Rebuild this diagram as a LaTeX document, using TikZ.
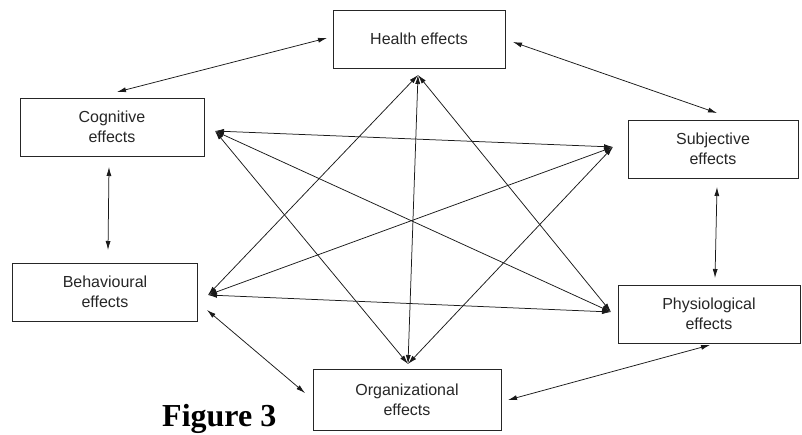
\documentclass[tikz,border=0pt]{standalone}
\usepackage{fontspec}
\setmainfont{Liberation Sans}
\newfontfamily\figfont{Liberation Serif}
\usetikzlibrary{arrows.meta}

\begin{document}
\begin{tikzpicture}[x=1pt,y=-1pt,
  effect/.style={draw=black!85, line width=0.7pt, minimum height=58pt,
    inner sep=0pt, align=center, text=black!85,
    font=\fontsize{16}{20}\selectfont},
  link/.style={draw=black!90, line width=0.75pt,
    {Latex[length=9pt,width=5pt]}-{Latex[length=9pt,width=5pt]}},
]
\useasboundingbox (0,0) rectangle (802,434);

% the six kinds of effect
\node[effect, minimum width=172pt] (health) at (419,39)  {Health effects};
\node[effect, minimum width=184pt] (cog)    at (112,127) {Cognitive\\effects};
\node[effect, minimum width=170pt] (subj)   at (713,149) {Subjective\\effects};
\node[effect, minimum width=185pt] (beh)    at (105,292) {Behavioural\\effects};
\node[effect, minimum width=182pt] (phys)   at (709,314) {Physiological\\effects};
\node[effect, minimum width=188pt, minimum height=61pt] (org) at (407,400) {Organizational\\effects};

% points of the inner star
\coordinate (tH) at (418,75);
\coordinate (tC) at (215,131);
\coordinate (tS) at (613,147);
\coordinate (tB) at (208,295);
\coordinate (tP) at (611,312);
\coordinate (tO) at (408,364);

% ends of the outer ring of arrows
\coordinate (hcA) at (327,38);  \coordinate (hcB) at (117,92);
\coordinate (hsA) at (513,42);  \coordinate (hsB) at (717,113);
\coordinate (cbA) at (109,167); \coordinate (cbB) at (108,250);
\coordinate (spA) at (717,187); \coordinate (spB) at (715,278);
\coordinate (boA) at (207,310); \coordinate (boB) at (305,393);
\coordinate (poA) at (710,345); \coordinate (poB) at (508,400);

% outer ring
\draw[link] (hcA) -- (hcB);
\draw[link] (hsA) -- (hsB);
\draw[link] (cbA) -- (cbB);
\draw[link] (spA) -- (spB);
\draw[link] (boA) -- (boB);
\draw[link] (poA) -- (poB);

% inner star
\draw[link] (tH) -- (tB);
\draw[link] (tH) -- (tP);
\draw[link] (tH) -- (tO);
\draw[link] (tC) -- (tS);
\draw[link] (tC) -- (tP);
\draw[link] (tC) -- (tO);
\draw[link] (tS) -- (tB);
\draw[link] (tS) -- (tO);
\draw[link] (tB) -- (tP);

% caption
\node[font=\figfont\bfseries\fontsize{32}{32}\selectfont, anchor=base west,
  inner sep=0pt] (caption) at (162,426) {Figure 3};
\end{tikzpicture}
\end{document}
